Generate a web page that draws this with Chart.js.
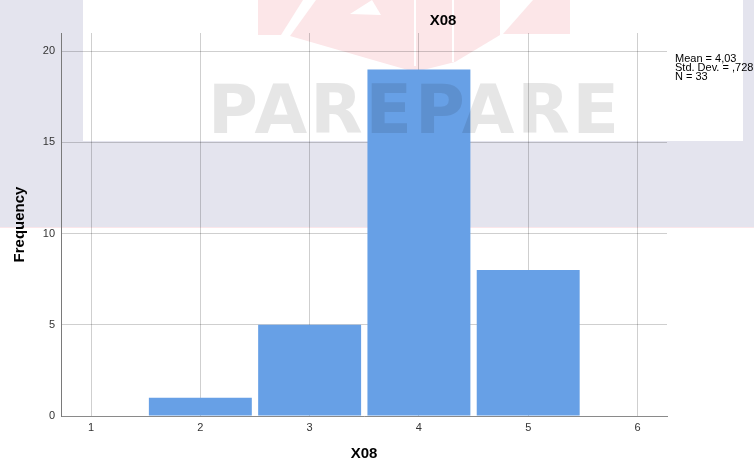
<!DOCTYPE html>
<html>
<head>
<meta charset="utf-8">
<title>X08</title>
<script src="https://cdn.jsdelivr.net/npm/chart.js@4/dist/chart.umd.min.js"></script>
<style>
  body { margin: 0; background: #fff; }
  canvas { display: block; }
</style>
</head>
<body>
<canvas id="histChart" width="754" height="463"></canvas>
<script>
// histogram data
const binCenters = [2, 3, 4, 5];
const frequencies = [1, 5, 19, 8];
const xTicks = [1, 2, 3, 4, 5, 6];
const yTicks = [0, 5, 10, 15, 20];
const chartTitle = 'X08';
const statsLines = ['Mean = 4,03', 'Std. Dev. = ,728', 'N = 33'];

const FONT = '"Liberation Sans", Arial, sans-serif';

function poly(c, pts) {
    c.beginPath();
    pts.forEach((p, i) => i ? c.lineTo(p[0], p[1]) : c.moveTo(p[0], p[1]));
    c.closePath();
    c.fill();
}

// background bands + watermark of the source page
const pagePlugin = {
    id: 'page',
    beforeDraw(chart) {
        const c = chart.ctx;
        c.save();
        c.fillStyle = '#ffffff';
        c.fillRect(0, 0, chart.width, chart.height);
        c.fillStyle = '#e4e4ee';
        c.fillRect(0, 0, 83, 228);
        c.fillRect(743, 0, 11, 228);
        c.fillRect(0, 141, chart.width, 87);
        c.fillStyle = '#fbe6ea';
        c.fillRect(0, 227, chart.width, 1);
        // faint logo pieces at the top
        c.fillStyle = '#fce6e8';
        poly(c, [[258, 0], [303, 0], [281, 35], [258, 35]]);
        poly(c, [[316, 0], [500, 0], [500, 35], [455, 62], [415, 72], [380, 62], [290, 36]]);
        poly(c, [[533, 0], [570, 0], [570, 34], [503, 34]]);
        c.fillStyle = '#ffffff';
        poly(c, [[350, 14], [372, 0], [381, 15]]);
        c.fillRect(414, 0, 2, 66);
        c.fillRect(452, 0, 2, 62);
        c.restore();
    },
    afterDatasetsDraw(chart) {
        const c = chart.ctx;
        c.save();
        c.globalCompositeOperation = 'multiply';
        c.fillStyle = '#e6e6e6';
        c.font = 'bold 68px "DejaVu Sans", ' + FONT;
        c.textAlign = 'left';
        c.textBaseline = 'alphabetic';
        if ('letterSpacing' in c) c.letterSpacing = '3px';
        c.fillText('PAREPARE', 208, 133);
        c.restore();
    },
    afterDraw(chart) {
        const c = chart.ctx;
        c.save();
        c.fillStyle = '#000';
        c.font = 'bold 15px ' + FONT;
        c.textAlign = 'center';
        c.textBaseline = 'middle';
        c.fillText(chartTitle, 443, 21);
        c.font = '11px ' + FONT;
        c.textAlign = 'left';
        c.textBaseline = 'alphabetic';
        statsLines.forEach((t, i) => c.fillText(t, 675, 62 + i * 9));
        c.restore();
    }
};

const ctx = document.getElementById('histChart').getContext('2d');
const histChart = new Chart(ctx, {
    type: 'bar',
    data: {
        datasets: [{
            label: chartTitle,
            data: binCenters.map((b, i) => ({ x: b, y: frequencies[i] })),
            backgroundColor: '#67a0e6',
            borderWidth: 0,
            barPercentage: 0.942,
            categoryPercentage: 1
        }]
    },
    options: {
        responsive: false,
        animation: false,
        events: [],
        layout: { padding: { left: 11, right: 87, top: 33, bottom: 0 } },
        plugins: {
            legend: { display: false },
            tooltip: { enabled: false }
        },
        scales: {
            x: {
                type: 'linear',
                min: 0.725,
                max: 6.27,
                offset: false,
                afterBuildTicks: s => { s.ticks = xTicks.map(v => ({ value: v })); },
                afterFit: s => { s.height = 47; },
                grid: { color: 'rgba(0,0,0,0.19)', offset: false, drawTicks: false },
                border: { color: '#8a8a8a', width: 1 },
                ticks: {
                    padding: 5,
                    color: '#333',
                    font: { family: FONT, size: 11, lineHeight: 1.2 },
                    maxRotation: 0
                },
                title: {
                    display: true,
                    text: chartTitle,
                    color: '#000',
                    font: { family: FONT, size: 15, weight: 'bold', lineHeight: 1.2 },
                    padding: 0
                }
            },
            y: {
                min: 0,
                max: 21,
                afterBuildTicks: s => { s.ticks = yTicks.map(v => ({ value: v })); },
                afterFit: s => { s.width = 50; },
                grid: { color: 'rgba(0,0,0,0.19)', drawTicks: false },
                border: { color: '#7a7a7a', width: 1 },
                ticks: {
                    padding: 6,
                    color: '#333',
                    font: { family: FONT, size: 11, lineHeight: 1.2 }
                },
                title: {
                    display: true,
                    text: 'Frequency',
                    color: '#000',
                    font: { family: FONT, size: 15, weight: 'bold', lineHeight: 1.2 },
                    padding: 0
                }
            }
        }
    },
    plugins: [pagePlugin]
});
</script>
</body>
</html>
